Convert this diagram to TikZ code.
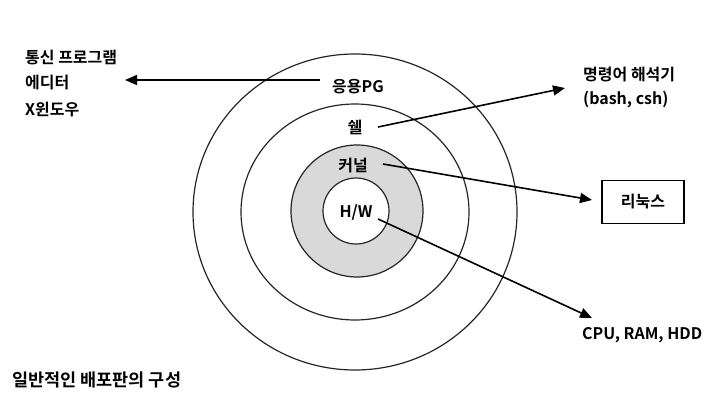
\documentclass[tikz,border=0pt]{standalone}
\usepackage{fontspec}
\setmainfont{Noto Sans CJK KR}[BoldFont={Noto Sans CJK KR Bold}]
\usetikzlibrary{arrows.meta}
\begin{document}
\begin{tikzpicture}[x=1pt,y=-1pt,
  font=\bfseries\fontsize{16}{19}\selectfont,
  ring/.style={draw=black!85, line width=1.2pt},
  arr/.style={draw=black, line width=1.6pt, -{Triangle[length=12pt,width=10pt]}},
  lbl/.style={inner sep=0pt, anchor=west},
  ctr/.style={inner sep=0pt}]
\useasboundingbox (0,0) rectangle (714,406);
\fill[white] (0,0) rectangle (714,406);
% rings
\draw[ring] (355,212) ellipse [x radius=162, y radius=158];
\draw[ring] (355,212) ellipse [x radius=114, y radius=108];
\draw[ring, fill=black!15] (357,211) circle [radius=66];
\draw[ring, fill=white] (356,211) circle [radius=33];
% ring labels
\node[ctr] (app) at (358,87) {응용PG};
\node[ctr] (shell) at (355,127) {쉘};
\node[ctr] (kernel) at (353,166) {커널};
\node[ctr] (hw) at (356,212) {H/W};
% outside texts
\node[lbl] (t1) at (25,58) {통신 프로그램};
\node[lbl] (t2) at (25,83) {에디터};
\node[lbl] (t3) at (25,110) {X윈도우};
\node[lbl] (cmd) at (583,75) {명령어 해석기};
\node[lbl] (bash) at (583,100) {(bash, csh)};
\node[draw, line width=1.2pt, minimum width=82pt, minimum height=43pt] (linux) at (643,202) {리눅스};
\node[lbl] (cpu) at (582,335) {CPU, RAM, HDD};
\node[lbl, font=\bfseries\fontsize{17.5}{20}\selectfont] (title) at (12,380) {일반적인 배포판의 구성};
% arrow ends
\coordinate (appS) at (320,80);
\coordinate (appT) at (125,80);
\coordinate (shellS) at (378,127);
\coordinate (shellT) at (565,88);
\coordinate (kernS) at (383,164);
\coordinate (kernT) at (592,200);
\coordinate (hwS) at (378,219);
\coordinate (hwT) at (592,318);
\draw[arr] (appS) -- (appT);
\draw[arr] (shellS) -- (shellT);
\draw[arr] (kernS) -- (kernT);
\draw[arr] (hwS) -- (hwT);
\end{tikzpicture}
\end{document}
